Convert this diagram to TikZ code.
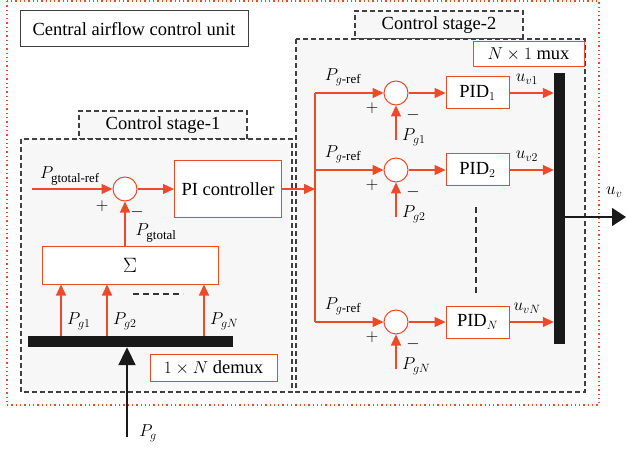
\documentclass[tikz,border=0pt]{standalone}
\usepackage{amsmath}
\usepackage{fontspec}
\setmainfont{Liberation Serif}
\usetikzlibrary{arrows.meta,positioning,calc}
\definecolor{ored}{RGB}{238,74,42}
\definecolor{bgray}{RGB}{247,247,247}
\tikzset{
  sig/.style={draw=ored,line width=1.2pt,-{Triangle[length=11pt,width=10pt]}},
  wire/.style={draw=ored,line width=1.2pt},
  blk/.style={draw=ored,line width=1pt,fill=white,inner sep=0pt},
  sumc/.style={circle,draw=ored,line width=1pt,fill=white,minimum size=24pt,inner sep=0pt},
  stage/.style={draw=black!75,line width=1.1pt,dash pattern=on 5pt off 3pt,fill=bgray},
  bus/.style={fill=black!90,draw=none,inner sep=0pt},
  lbl/.style={inner sep=1pt}
}

\begin{document}
\begin{tikzpicture}[x=1pt,y=-1pt,font=\fontsize{18.5}{21}\selectfont]
  \useasboundingbox (0,0) rectangle (626,449);

  \def\jx{315}
  \def\sx{396}
  \def\px{477.5}

  % outer unit
  \draw[ored,line width=1.3pt,dash pattern=on 1.3pt off 3pt] (7,1) rectangle (599,405);
  \node[draw=black!75,line width=1pt,minimum width=228pt,minimum height=36pt] (unit) at (134,29) {Central airflow control unit};

  % stages
  \node[stage,minimum width=168pt,minimum height=28pt] (tab1) at (163,125) {Control stage-1};
  \draw[stage] (21,139) rectangle (292,392);
  \node[stage,minimum width=168pt,minimum height=28pt] (tab2) at (439,25) {Control stage-2};
  \draw[stage] (296,39) rectangle (585,392);

  % stage 1
  \node[sumc] (s0) at (125,189) {};
  \node[blk,minimum width=107pt,minimum height=57pt] (pi) at (228,189) {PI controller};
  \node[blk,minimum width=176pt,minimum height=38pt] (sum) at (130,265) {\fontsize{21}{24}\selectfont$\Sigma$};
  \node[bus,minimum width=205pt,minimum height=11pt] (dmx) at (130.5,341.5) {};
  \node[blk,minimum width=127pt,minimum height=27pt] (dlab) at (213.5,367.5) {$1\times N$ demux};
  \coordinate (in0) at (32,189);
  \coordinate (pgin) at (127,437);

  \draw[sig] (in0) -- (s0);
  \draw[sig] (s0) -- (pi);
  \draw[sig] (sum.north -| s0) -- (s0);
  \node[lbl] (lref) at (70,176) {$P_{\text{gtotal-ref}}$};
  \node[lbl] (p0) at (102,206) {$+$};
  \node[lbl] (m0) at (137,212) {$-$};
  \node[lbl] (ltot) at (156,233) {$P_{\text{gtotal}}$};

  \foreach \x/\k in {61/1,107/2,204/N} {
    \draw[sig] (\x,0 |- dmx.north) -- (\x,0 |- sum.south);
    \node[lbl,anchor=west] (lg\k) at (\x+5,321) {$P_{g\k}$};
  }
  \draw[black!80,line width=1.1pt,dash pattern=on 6pt off 4pt] (133,294) -- (183,294);

  \draw[black!90,line width=2pt,-{Triangle[length=18pt,width=17pt]}] (pgin) -- (pgin |- dmx.south);
  \node[lbl] (lpg) at (148,433) {$P_g$};

  % stage 2
  \coordinate (jt) at (\jx,93);
  \coordinate (jb) at (\jx,322);
  \draw[wire] (jt) -- (jb);
  \draw[sig] (pi) -- (pi.east -| jt);

  \node[bus,minimum width=11pt,minimum height=271pt] (mux) at (559.5,208.5) {};
  \node[blk,minimum width=111pt,minimum height=25pt] (mlab) at (528.5,54.5) {$N\times 1$ mux};

  \foreach \y/\k [count=\i] in {93/1,170/2,322/N} {
    \node[sumc] (s\i) at (\sx,\y) {};
    \node[blk,minimum width=63pt,minimum height=32pt] (pid\i) at (\px,\y) {PID$_{\k}$};
    \coordinate (g\i) at (\sx,\y+47);
    \draw[sig] (\jx,\y) -- (s\i);
    \draw[sig] (g\i) -- (s\i);
    \draw[sig] (s\i) -- (pid\i);
    \draw[sig] (pid\i) -- (pid\i -| mux.west);
    \node[lbl] (r\i) at (343,\y-16) {$P_{g\text{-ref}}$};
    \node[lbl] (p\i) at (372,\y+15) {$+$};
    \node[lbl] (m\i) at (413,\y+22) {$-$};
    \node[lbl,anchor=west] (lp\i) at (401,\y+44) {$P_{g\k}$};
    \node[lbl] (u\i) at (527,\y-14) {$u_{v\k}$};
  }
  \draw[black!80,line width=1.1pt,dash pattern=on 6pt off 4pt] (476,207) -- (476,293);

  \coordinate (uv) at (626,217);
  \draw[black!90,line width=1.5pt,-{Triangle[length=14pt,width=18pt]}] (mux.east |- uv) -- (uv);
  \node[lbl,anchor=west] (luv) at (605,192) {$u_v$};

\end{tikzpicture}
\end{document}
